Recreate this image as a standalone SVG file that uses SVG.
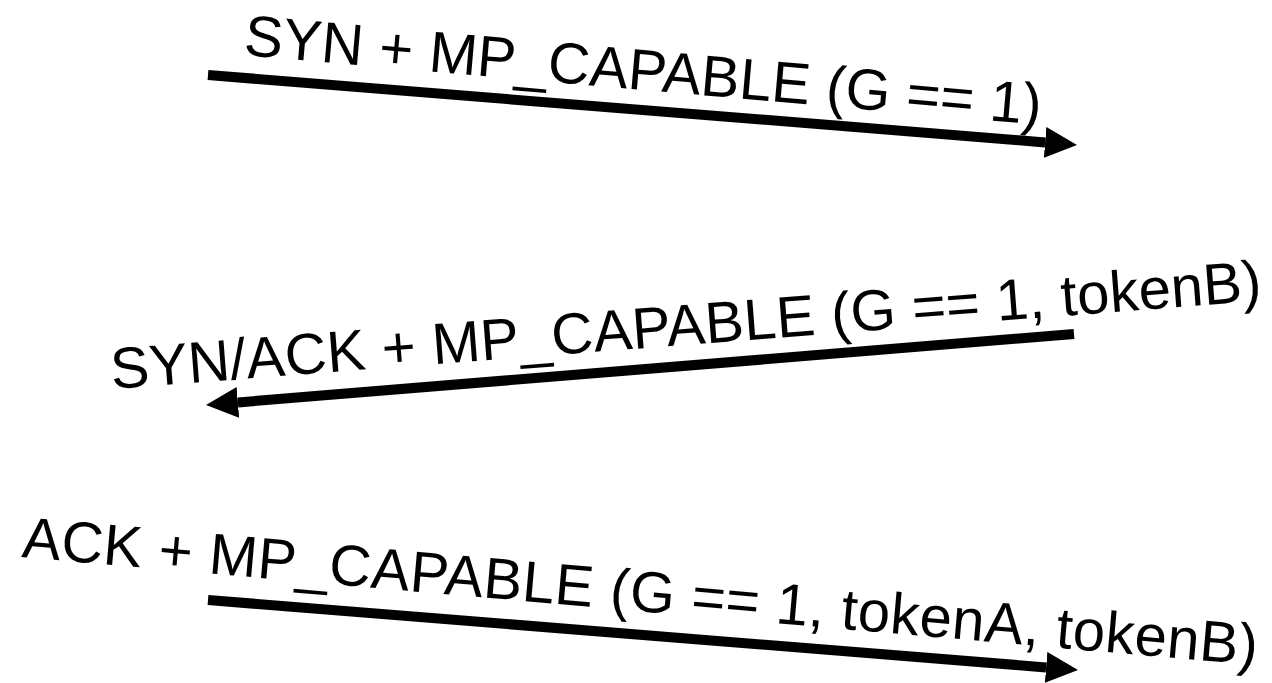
<svg xmlns="http://www.w3.org/2000/svg" width="1272" height="683" viewBox="0 0 1272 683">
<style>
.lbl{font-family:"Liberation Sans",Arial,sans-serif;font-size:58px;fill:#000;}
.conn{stroke:#000;stroke-width:10;fill:none;stroke-linecap:butt;}
</style>
<defs>
<marker id="ah" markerUnits="userSpaceOnUse" markerWidth="33" markerHeight="32" refX="0" refY="15.5" orient="auto">
<path d="M0,0 L32,15.5 L0,31 z" fill="#000"/>
</marker>
</defs>
<rect width="1272" height="683" fill="#fff"/>
<g id="connectors">
<line class="conn" x1="208" y1="75" x2="1045.1" y2="142.4" marker-end="url(#ah)"/>
<line class="conn" x1="1074" y1="334" x2="237.9" y2="402.4" marker-end="url(#ah)"/>
<line class="conn" x1="208" y1="600" x2="1046.1" y2="667.4" marker-end="url(#ah)"/>
</g>
<g id="label-syn">
<text class="lbl" x="243" y="55" transform="rotate(5 243 55)" textLength="800" lengthAdjust="spacing">SYN + MP_CAPABLE (G == 1)</text>
</g>
<g id="label-synack">
<text class="lbl" x="112" y="389" transform="rotate(-4.4 112 389)" textLength="1154" lengthAdjust="spacing">SYN/ACK + MP_CAPABLE (G == 1, tokenB)</text>
</g>
<g id="label-ack">
<text class="lbl" x="21" y="557" transform="rotate(5 21 557)" textLength="1240" lengthAdjust="spacing">ACK + MP_CAPABLE (G == 1, tokenA, tokenB)</text>
</g>
</svg>
